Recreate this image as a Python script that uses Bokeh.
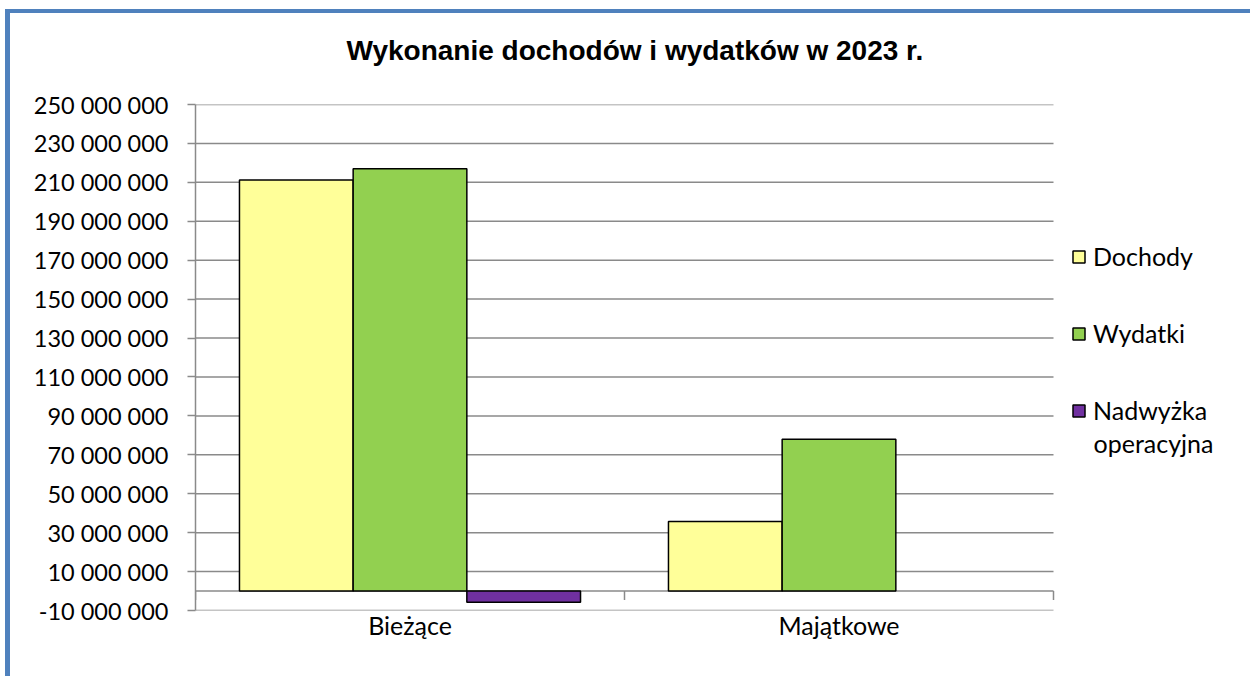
from bokeh.plotting import figure
from bokeh.models import (Range1d, FixedTicker, Legend, LegendItem, Label, Title,
                          ColumnDataSource)
from bokeh.embed import file_html
from bokeh.resources import INLINE

# ---- data ----
categories = ["Bieżące", "Majątkowe"]
dochody = [211_200_000, 35_700_000]
wydatki = [217_000_000, 78_000_000]
nadwyzka = [-5_800_000, None]
series_names = ["Dochody", "Wydatki", "Nadwyżka"]
series_name_cont = "operacyjna"
series_colors = ["#FFFF99", "#92D050", "#7030A0"]
y_ticks = list(range(-10_000_000, 250_000_001, 20_000_000))
y_tick_labels = [f"{t:,}".replace(",", " ") for t in y_ticks]
title_text = "Wykonanie dochodów i wydatków w 2023 r."

FONT = "Lato"
GRID = "#8a8a8a"
N = len(categories)
cat_x = [i + 0.5 for i in range(N)]          # category centres on the numeric x scale
X_END = N * 1060 / 858                        # frame extends right to hold the legend

# canvas origin on the page: (10, 13) after margin + blue border
p = figure(x_range=Range1d(0, X_END), y_range=Range1d(-10_000_000, 250_000_000),
           width=1245, height=667, output_backend="svg", toolbar_location=None,
           min_border_left=185, min_border_right=0, min_border_top=91, min_border_bottom=70)
p.margin = (9, 0, 0, 5)
p.styles = {"border-left": "5px solid #4F81BD", "border-top": "4px solid #4F81BD"}

p.outline_line_color = None
p.background_fill_color = "white"
p.border_fill_color = "white"

# title (outermost) with an empty spacer between it and the plot area
p.title.text = title_text
p.title.align = "left"
p.title.offset = 151
p.title.standoff = 0
p.title.text_font = "Liberation Sans"
p.title.text_font_style = "bold"
p.title.text_font_size = "28px"
p.title.text_color = "black"
p.add_layout(Title(text=" ", text_font="Liberation Sans", text_font_size="33px", standoff=0), "above")

# horizontal grid lines (limited to the category area)
p.xgrid.visible = False
p.ygrid.visible = False
p.segment(x0=[0] * len(y_ticks), x1=[N] * len(y_ticks), y0=y_ticks, y1=y_ticks,
          line_color=GRID, line_width=1.5)

# y axis
p.yaxis.ticker = FixedTicker(ticks=y_ticks)
p.yaxis.major_label_overrides = {t: lab for t, lab in zip(y_ticks, y_tick_labels)}
p.yaxis.axis_line_color = GRID
p.yaxis.axis_line_width = 1.5
p.yaxis.major_tick_line_color = GRID
p.yaxis.major_tick_line_width = 1.5
p.yaxis.major_tick_out = 8
p.yaxis.major_tick_in = 0
p.yaxis.minor_tick_line_color = None
p.yaxis.major_label_standoff = 19
p.yaxis.major_label_text_font = FONT
p.yaxis.major_label_text_font_size = "23.5px"
p.yaxis.major_label_text_color = "black"

# x axis (category labels only)
p.xaxis.ticker = FixedTicker(ticks=cat_x)
p.xaxis.major_label_overrides = {x: c for x, c in zip(cat_x, categories)}
p.xaxis.axis_line_color = None
p.xaxis.major_tick_line_color = None
p.xaxis.minor_tick_line_color = None
p.xaxis.major_label_standoff = -7
p.xaxis.major_label_text_font = FONT
p.xaxis.major_label_text_font_size = "25px"
p.xaxis.major_label_text_color = "black"

# zero axis line and category boundary ticks
p.segment(x0=[0], x1=[N], y0=[0], y1=[0], line_color=GRID, line_width=1.5)
bounds = list(range(N + 1))
p.segment(x0=bounds, x1=bounds, y0=[0] * len(bounds), y1=[-4_600_000] * len(bounds),
          line_color=GRID, line_width=1.5)

# bars
bw = 0.265
offsets = [-bw, 0, bw]
series_vals = [dochody, wydatki, nadwyzka]
renderers = []
for vals, off, col in zip(series_vals, offsets, series_colors):
    xs = [cx + off for cx, v in zip(cat_x, vals) if v is not None]
    vv = [v for v in vals if v is not None]
    src = ColumnDataSource(dict(x=xs, val=vv))
    r = p.vbar(x="x", top="val", bottom=0, width=bw, source=src,
               fill_color=col, line_color="black", line_width=1.5)
    renderers.append(r)

legend = Legend(items=[LegendItem(label=n, renderers=[r]) for n, r in zip(series_names, renderers)],
                location=(876, 185), orientation="vertical",
                border_line_alpha=0, background_fill_alpha=0,
                glyph_width=15, glyph_height=15, label_standoff=7,
                label_text_font=FONT, label_text_font_size="25px", label_text_color="black",
                label_height=30, spacing=47, padding=0, margin=0)
p.add_layout(legend)
p.add_layout(Label(x=898, y=168, x_units="screen", y_units="screen", text=series_name_cont,
                   text_font=FONT, text_font_size="25px", text_color="black",
                   text_baseline="middle", text_align="left"))

open("out.html", "w").write(file_html(p, INLINE))
